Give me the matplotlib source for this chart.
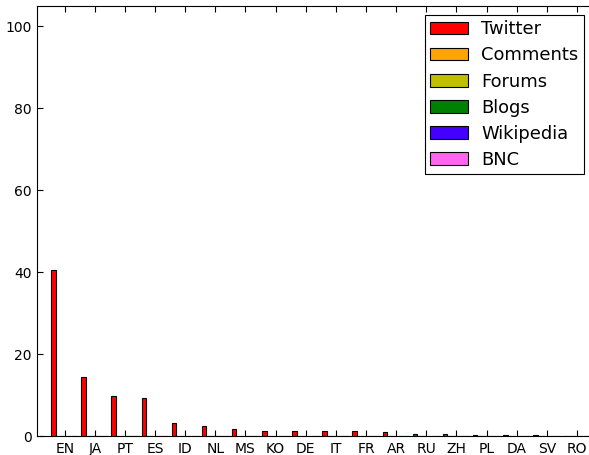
import numpy as np
from matplotlib import pyplot as plt

langs = ['EN', 'JA', 'PT', 'ES', 'ID', 'NL', 'MS', 'KO', 'DE', 'IT',
         'FR', 'AR', 'RU', 'ZH', 'PL', 'DA', 'SV', 'RO']
twitter = [40.5, 14.5, 9.8, 9.2, 3.2, 2.4, 1.6, 1.3, 1.3, 1.2,
           1.2, 0.9, 0.5, 0.5, 0.2, 0.2, 0.2, 0.05]
comments = [0] * 18
forums = [0] * 18
blogs = [0] * 18
wikipedia = [0] * 18
bnc = [0] * 18

series = [('Twitter', twitter, '#ff0000'),
          ('Comments', comments, '#ffa500'),
          ('Forums', forums, '#bfbf00'),
          ('Blogs', blogs, '#008000'),
          ('Wikipedia', wikipedia, '#4400ff'),
          ('BNC', bnc, '#ff66ee')]

fig = plt.figure(figsize=(5.89, 4.55), dpi=100)
W, H = 589.0, 455.0
ax = fig.add_axes([37 / W, 1 - 436 / H, (595 - 37) / W, (436 - 6) / H])

x = np.arange(len(langs))
w = 0.15
for k, (name, vals, col) in enumerate(series):
    ax.bar(x + k * w, vals, w, align='edge', color=col,
           edgecolor='black', linewidth=0.8, label=name)

ax.set_xlim(-0.47, 18.05)
ax.set_ylim(0, 105)
ax.set_xticks(x + 0.45)
ax.set_xticklabels(langs)
ax.set_yticks([0, 20, 40, 60, 80, 100])
ax.tick_params(axis='both', direction='in', top=True, right=True,
               length=4, width=0.8, labelsize=10, pad=4)

leg = ax.legend(loc='upper right', bbox_to_anchor=(0.98, 0.979),
                borderaxespad=0, fancybox=False, edgecolor='black',
                framealpha=1, fontsize=12.9, handlelength=2.1,
                labelspacing=0.45, handletextpad=0.75, borderpad=0.3)
leg.get_frame().set_linewidth(0.8)

fig.savefig('out.png', dpi=100)
